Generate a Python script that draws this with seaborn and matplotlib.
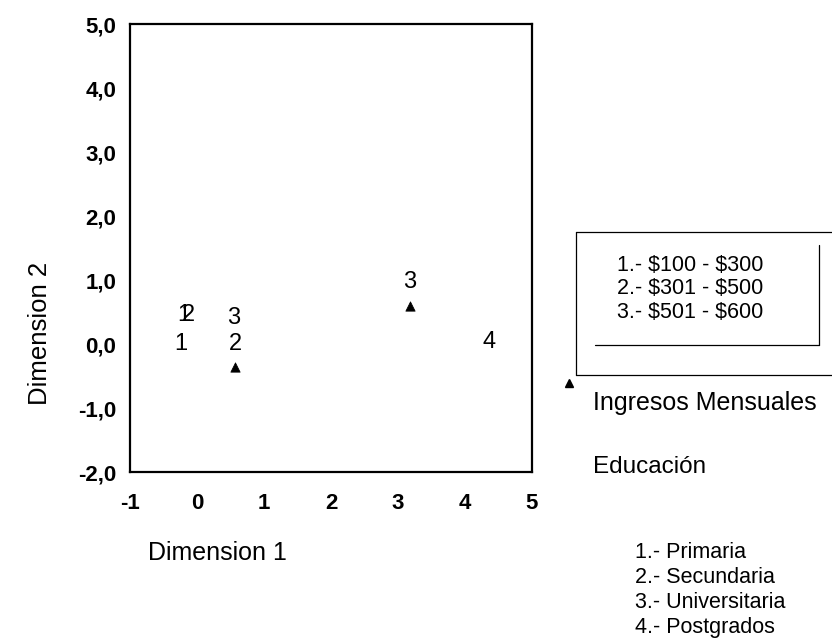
import seaborn as sb
import pandas as pd
import matplotlib.pyplot as plt
from matplotlib.lines import Line2D
from matplotlib.ticker import FuncFormatter

# ingresos mensuales (triangles + their number labels)
ingresos_tri_x = [0.57, 3.18]
ingresos_tri_y = [-0.36, 0.6]
ingresos_labels = ["1", "2", "3"]
ingresos_lab_x = [-0.24, 0.57, 3.17]
ingresos_lab_y = [0.0, 0.0, 0.97]

# educacion (number labels only)
edu_labels = ["1", "2", "3", "4"]
edu_x = [-0.2, -0.13, 0.54, 4.36]
edu_y = [0.46, 0.45, 0.41, 0.03]

ingresos_legend = [r"1.- \$100 - \$300", r"2.- \$301 - \$500", r"3.- \$501 - \$600"]
edu_legend = ["1.- Primaria", "2.- Secundaria", "3.- Universitaria", "4.- Postgrados"]

x_ticks = [-1, 0, 1, 2, 3, 4, 5]
y_ticks = [-2, -1, 0, 1, 2, 3, 4, 5]

sb.set_style("white")
plt.rcParams['font.family'] = ['Liberation Sans', 'DejaVu Sans']
plt.rcParams['axes.unicode_minus'] = False
plt.rcParams['text.color'] = 'black'

W, H = 832, 643
fig = plt.figure(figsize=(W / 100, H / 100), dpi=100)
ax = fig.add_axes([130 / W, 1 - 472 / H, (532 - 130) / W, (472 - 24) / H])

df = pd.DataFrame({"x": ingresos_tri_x, "y": ingresos_tri_y})
sb.scatterplot(data=df, x="x", y="y", marker="^", color="black", s=45,
               edgecolor="black", ax=ax, legend=False)

for lab, x, y in zip(ingresos_labels, ingresos_lab_x, ingresos_lab_y):
    ax.text(x, y, lab, ha="center", va="center", fontsize=17)
for lab, x, y in zip(edu_labels, edu_x, edu_y):
    ax.text(x, y, lab, ha="center", va="center", fontsize=17)

ax.set_xlim(-1, 5)
ax.set_ylim(-2, 5)
ax.set_xticks(x_ticks)
ax.set_yticks(y_ticks)
ax.yaxis.set_major_formatter(FuncFormatter(lambda v, p: f"{v:.1f}".replace(".", ",")))
ax.tick_params(direction="out", length=8, width=1.5, labelsize=16, colors="black")
ax.tick_params(axis="x", pad=7)
ax.tick_params(axis="y", pad=2)
for t in ax.get_xticklabels() + ax.get_yticklabels():
    t.set_fontweight("bold")
for sp in ax.spines.values():
    sp.set_linewidth(1.6)
    sp.set_color("black")
ax.set_xlabel("")
ax.set_ylabel("")

fig.text(40 / W, 1 - 333 / H, "Dimension 2", rotation=90, ha="center", va="center", fontsize=18.5)
fig.text(148 / W, 1 - 553 / H, "Dimension 1", ha="left", va="center", fontsize=18)

# income legend box
box_lines = [
    ([576, 840], [232, 232]), ([576, 576], [232, 375]), ([576, 840], [375, 375]),
    ([819, 819], [245, 345]), ([595, 819], [345, 345]),
]
for xs, ys in box_lines:
    fig.add_artist(Line2D([x / W for x in xs], [1 - y / H for y in ys],
                          color="black", lw=0.9))
for i, lab in enumerate(ingresos_legend):
    fig.text(690 / W, 1 - (265 + 23.5 * i) / H, lab, ha="center", va="center", fontsize=15.5)

fig.add_artist(Line2D([569 / W], [1 - 383 / H], marker="^", color="black", markersize=6))
fig.text(593 / W, 1 - 403 / H, "Ingresos Mensuales", ha="left", va="center", fontsize=18)
fig.text(593 / W, 1 - 467 / H, "Educación", ha="left", va="center", fontsize=17.5)

for i, lab in enumerate(edu_legend):
    fig.text(635 / W, 1 - (553 + 24.7 * i) / H, lab, ha="left", va="center", fontsize=15.5)

plt.savefig("out.png", dpi=100)
